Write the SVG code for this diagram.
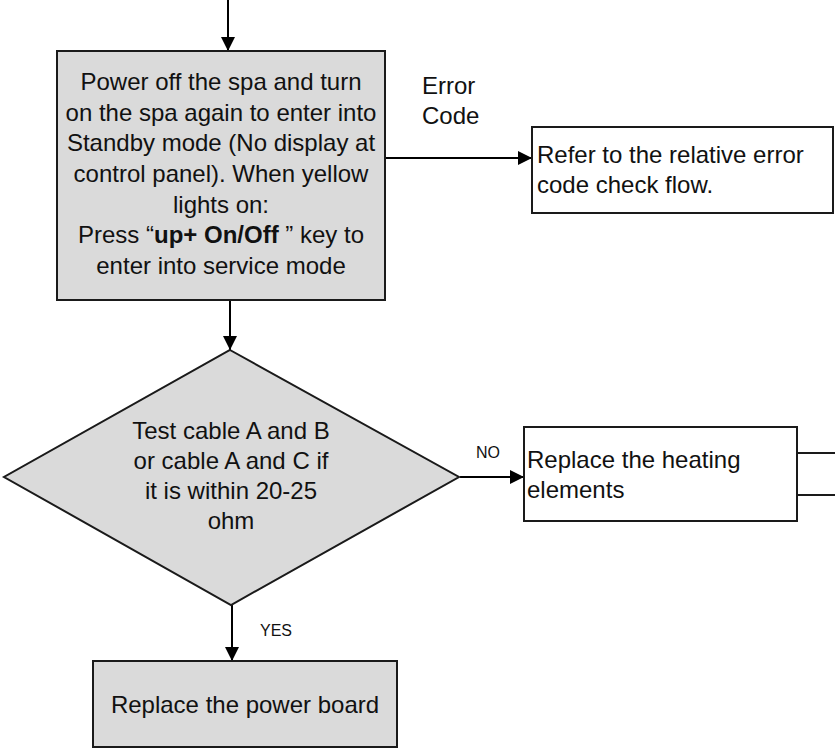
<svg xmlns="http://www.w3.org/2000/svg" width="835" height="748" viewBox="0 0 835 748">
<defs>
<marker id="arr" markerUnits="userSpaceOnUse" markerWidth="14" markerHeight="14" viewBox="0 0 14 14" refX="14" refY="7" orient="auto">
<path d="M0,0 L14,7 L0,14 Z" fill="#000"/>
</marker>
<style>
.box{fill:#dadada;stroke:#1a1a1a;stroke-width:2}
.wbox{fill:#fff;stroke:#1a1a1a;stroke-width:2}
.t{font-family:"Liberation Sans",Arial,sans-serif;font-size:24px;fill:#111}
.c{text-anchor:middle}
.s{font-family:"Liberation Sans",Arial,sans-serif;font-size:16px;fill:#111}
.ln{fill:none;stroke:#000;stroke-width:2}
</style>
</defs>
<rect width="835" height="748" fill="#fff"/>
<g id="connectors">
<line class="ln" x1="228" y1="0" x2="228" y2="51" marker-end="url(#arr)"/>
<line class="ln" x1="230" y1="301" x2="230" y2="350" marker-end="url(#arr)"/>
<line class="ln" x1="386" y1="158" x2="532" y2="158" marker-end="url(#arr)"/>
<line class="ln" x1="460" y1="477" x2="524" y2="477" marker-end="url(#arr)"/>
<line class="ln" x1="232" y1="605" x2="232" y2="661" marker-end="url(#arr)"/>
<text class="t" x="422" y="94">Error</text>
<text class="t" x="422" y="124">Code</text>
<text class="s" x="476" y="458">NO</text>
<text class="s" x="260" y="636">YES</text>
</g>
<g id="node-standby">
<rect class="box" x="57" y="51" width="328" height="249"/>
<text class="t c" x="221" y="90">Power off the spa and turn</text>
<text class="t c" x="221" y="121">on the spa again to enter into</text>
<text class="t c" x="221" y="151">Standby mode (No display at</text>
<text class="t c" x="221" y="182">control panel). When yellow</text>
<text class="t c" x="221" y="213">lights on:</text>
<text class="t c" x="221" y="243">Press “<tspan font-weight="bold">up+ On/Off</tspan> ” key to</text>
<text class="t c" x="221" y="274">enter into service mode</text>
</g>
<g id="node-error">
<rect class="wbox" x="532" y="127" width="301" height="86"/>
<text class="t" x="537" y="163">Refer to the relative error</text>
<text class="t" x="537" y="193">code check flow.</text>
</g>
<g id="node-test">
<polygon class="box" points="230,350 459,477 231,605 4,477"/>
<text class="t c" x="231" y="439">Test cable A and B</text>
<text class="t c" x="231" y="469">or cable A and C if</text>
<text class="t c" x="231" y="499">it is within 20-25</text>
<text class="t c" x="231" y="529">ohm</text>
</g>
<g id="node-heating">
<rect class="wbox" x="524" y="427" width="273" height="94"/>
<text class="t" x="527" y="468">Replace the heating</text>
<text class="t" x="527" y="498">elements</text>
</g>
<g id="node-next">
<rect class="wbox" x="797" y="453" width="60" height="42"/>
</g>
<g id="node-power">
<rect class="box" x="93" y="661" width="304" height="86"/>
<text class="t c" x="245" y="713">Replace the power board</text>
</g>
</svg>
